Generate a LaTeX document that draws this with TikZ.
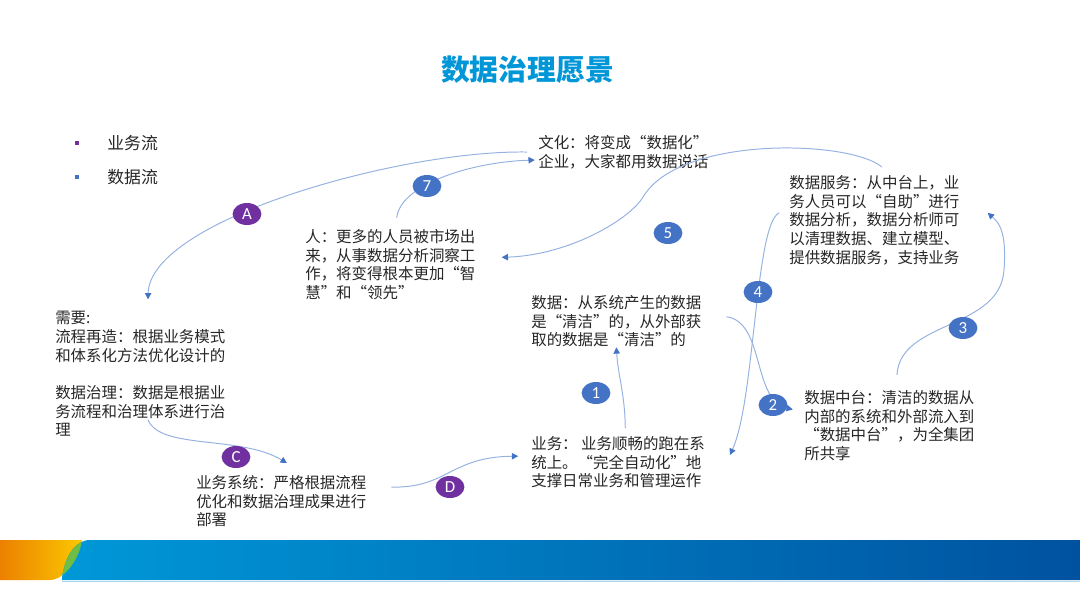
\documentclass[tikz,border=0pt]{standalone}
\usepackage{fontspec}
\setmainfont{Noto Sans CJK SC}
\newfontfamily\badgefont{Carlito}
\usetikzlibrary{arrows.meta, shapes.geometric}
\definecolor{titleblue}{RGB}{0,150,215}
\definecolor{textgray}{RGB}{38,38,38}
\definecolor{lineblue}{RGB}{150,178,225}
\definecolor{arrowblue}{RGB}{68,114,196}
\definecolor{badgeblue}{RGB}{68,114,196}
\definecolor{badgepurple}{RGB}{112,48,160}
\definecolor{bandlight}{RGB}{0,152,216}
\definecolor{banddark}{RGB}{0,82,160}
\definecolor{bandorange}{RGB}{236,128,0}
\definecolor{bandyellow}{RGB}{250,200,0}
\definecolor{bandgreen}{RGB}{110,190,70}
\definecolor{bandline}{RGB}{175,215,240}

\begin{document}
\begin{tikzpicture}[>={Triangle[length=4.5pt, width=4.5pt, color=arrowblue]},
    txt/.style={anchor=north west, inner sep=0pt, align=left, text=textgray,
                font=\fontsize{11}{13.3}\selectfont},
    badge/.style={ellipse, minimum width=0.72cm, minimum height=0.55cm, inner sep=0pt,
                  text=white, font=\badgefont\fontsize{12}{12}\selectfont},
    bluebadge/.style={badge, fill=badgeblue},
    purplebadge/.style={badge, fill=badgepurple},
    flow/.style={draw=lineblue, line width=0.7pt, ->}]
  \useasboundingbox (0,0) rectangle (27,-15.175);

  \shade[left color=bandorange, right color=bandyellow]
    (0,-13.5) -- (2.05,-13.5) .. controls (2,-13.875) and (1.75,-14.3) .. (1.45,-14.45)
    .. controls (1.38,-14.49) and (1.3,-14.5) .. (1.2,-14.5) -- (0,-14.5) -- cycle;
  \shade[left color=bandlight, right color=banddark]
    (1.55,-14.5) .. controls (1.58,-14.05) and (1.8,-13.56) .. (2.2,-13.5)
    -- (27,-13.5) -- (27,-14.5) -- cycle;
  \begin{scope}
    \clip (0,-13.5) -- (2.05,-13.5) .. controls (2,-13.875) and (1.75,-14.3) .. (1.45,-14.45)
      .. controls (1.38,-14.49) and (1.3,-14.5) .. (1.2,-14.5) -- (0,-14.5) -- cycle;
    \fill[bandgreen] (1.55,-14.5) .. controls (1.58,-14.05) and (1.8,-13.56) .. (2.2,-13.5)
      -- (27,-13.5) -- (27,-14.5) -- cycle;
  \end{scope}
  \draw[bandline, line width=0.6pt] (1.55,-14.53) -- (27,-14.53);

  \node[font=\fontsize{20.5}{24}\selectfont\bfseries, text=titleblue] (title) at (13.19,-1.75) {数据治理愿景};

  \node[fill=badgepurple, minimum size=0.08cm, inner sep=0pt] (bizdot) at (1.925,-3.575) {};
  \node[anchor=west, inner sep=0pt, text=textgray, font=\fontsize{12}{14}\selectfont] (bizlabel) at (2.675,-3.575) {业务流};
  \node[fill=badgeblue, minimum size=0.08cm, inner sep=0pt] (datadot) at (1.925,-4.425) {};
  \node[anchor=west, inner sep=0pt, text=textgray, font=\fontsize{12}{14}\selectfont] (datalabel) at (2.675,-4.425) {数据流};

  \node[txt] (wenhua) at (13.45,-3.375) {文化：将变成“数据化”\\企业，大家都用数据说话};
  \node[txt] (ren) at (7.625,-5.725) {人：更多的人员被市场出\\来，从事数据分析洞察工\\作，将变得根本更加“智\\慧”和“领先”};
  \node[txt] (fuwu) at (19.725,-4.375) {数据服务：从中台上，业\\务人员可以“自助”进行\\数据分析，数据分析师可\\以清理数据、建立模型、\\提供数据服务，支持业务};
  \node[txt] (xuyao) at (1.375,-7.775) {需要:\\流程再造：根据业务模式\\和体系化方法优化设计的\\[13.3pt]数据治理：数据是根据业\\务流程和治理体系进行治\\理};
  \node[txt] (shuju) at (13.275,-7.375) {数据：从系统产生的数据\\是“清洁”的，从外部获\\取的数据是“清洁”的};
  \node[txt] (yewu) at (13.275,-10.9) {业务： 业务顺畅的跑在系\\统上。“完全自动化”地\\支撑日常业务和管理运作};
  \node[txt] (zhongtai) at (20.1,-9.75) {数据中台：清洁的数据从\\内部的系统和外部流入到\\“数据中台”，为全集团\\所共享};
  \node[txt] (xitong) at (4.9,-11.875) {业务系统：严格根据流程\\优化和数据治理成果进行\\部署};

  \draw[flow] ([xshift=-0.28cm]wenhua.west) .. controls (10,-3.75) and (3.75,-5.5) .. ([xshift=0.19cm,yshift=0.29cm]xuyao.north);
  \draw[flow] ([xshift=0.16cm,yshift=0.28cm]ren.north) .. controls (10,-4.625) and (11.75,-4.05) .. ([xshift=-0.08cm,yshift=-0.2cm]wenhua.west);
  \draw[flow] ([xshift=0.19cm,yshift=0.2cm]fuwu.north) .. controls (21.25,-3.5) and (17,-3.375) .. (16.075,-4.925)
    .. controls (15.75,-5.475) and (14.25,-6.375) .. ([xshift=0.65cm,yshift=0.18cm]ren.east);
  \draw[flow] ([xshift=-0.25cm,yshift=0.18cm]fuwu.west) .. controls (18.875,-5.625) and (18.875,-10) .. ([xshift=0.62cm,yshift=0.18cm]yewu.east);
  \draw[flow] ([xshift=0.62cm,yshift=0.11cm]shuju.east) .. controls (19.125,-8.05) and (18.8,-10) .. ([xshift=-0.28cm,yshift=0.4cm]zhongtai.west);
  \draw[flow] ([xshift=0.19cm,yshift=0.375cm]zhongtai.north) .. controls (22.5,-8) and (25,-8.25) .. (25.1,-6.75)
    .. controls (25.175,-5.75) and (24.95,-5.55) .. ([xshift=0.7cm,yshift=0.18cm]fuwu.east);
  \draw[flow] ([xshift=0.18cm,yshift=0.2cm]yewu.north) .. controls (15.625,-9.875) and (15.45,-9.375) .. (shuju.south);
  \draw[flow] ([xshift=0.19cm,yshift=0.43cm]xuyao.south) .. controls (4,-11.25) and (6,-10.875) .. ([xshift=0.14cm,yshift=0.3cm]xitong.north);
  \draw[flow] ([xshift=0.62cm,yshift=0.35cm]xitong.east) .. controls (11.2,-12.2) and (11.25,-11.425) .. ([xshift=-0.32cm,yshift=0.15cm]yewu.west);

  \node[purplebadge] (bA) at (6.175,-5.35) {A};
  \node[bluebadge] (b7) at (10.675,-4.65) {7};
  \node[bluebadge] (b5) at (16.7,-5.825) {5};
  \node[bluebadge] (b4) at (18.95,-7.3) {4};
  \node[bluebadge] (b3) at (24.075,-8.2) {3};
  \node[bluebadge] (b2) at (19.325,-10.125) {2};
  \node[bluebadge] (b1) at (14.9,-9.825) {1};
  \node[purplebadge] (bC) at (5.9,-11.425) {C};
  \node[purplebadge] (bD) at (11.25,-12.175) {D};
\end{tikzpicture}
\end{document}
